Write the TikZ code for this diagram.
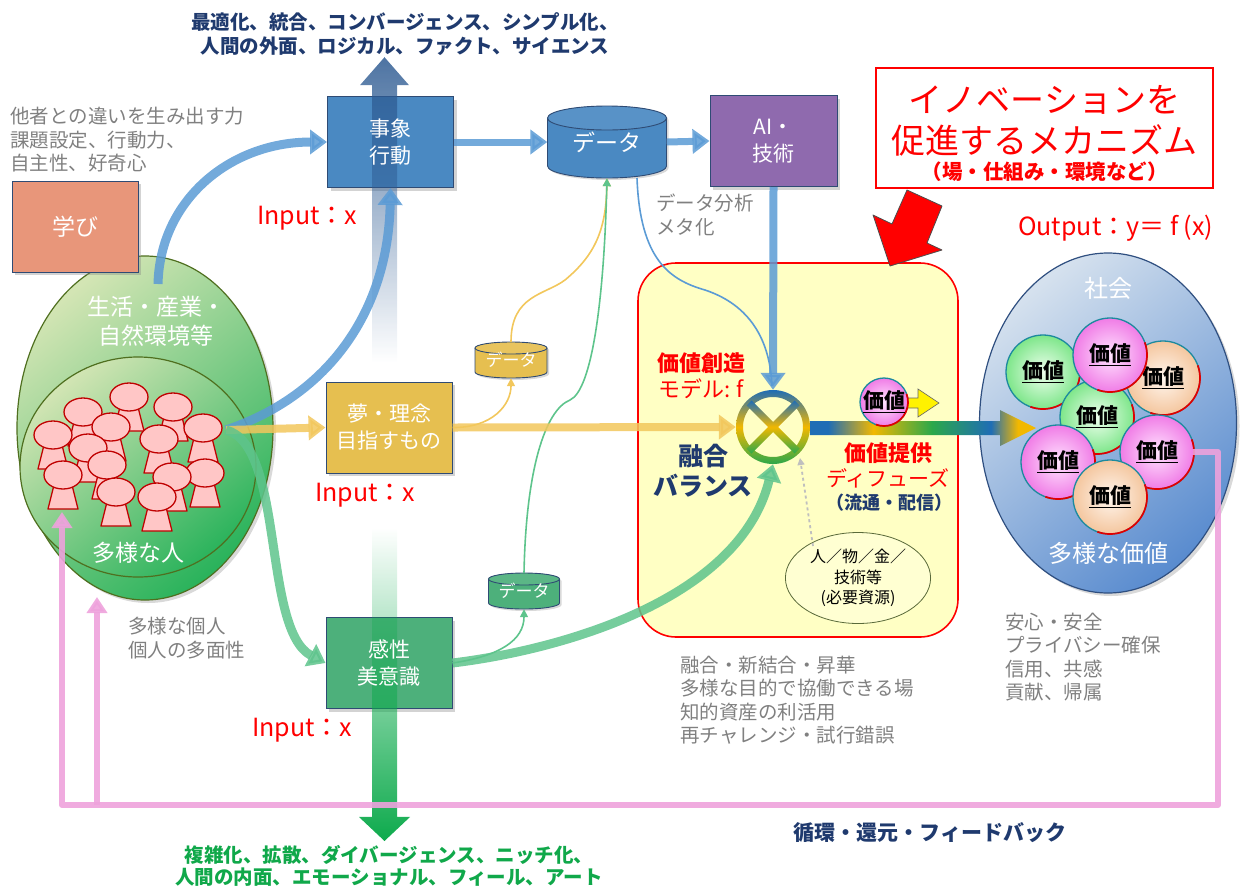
\documentclass[tikz,border=0pt]{standalone}
\usepackage{fontspec}
\setmainfont{Noto Sans CJK JP}
\usetikzlibrary{arrows.meta,calc,shadows,fadings,shapes.geometric}

\definecolor{navytxt}{HTML}{1F3A6E}
\definecolor{graytxt}{HTML}{808080}
\definecolor{redtxt}{HTML}{FF0000}
\definecolor{greentxt}{HTML}{10A84A}
\definecolor{evtblue}{HTML}{4A89C2}
\definecolor{boxedge}{HTML}{2F4B74}
\definecolor{dreamgold}{HTML}{E6BF50}
\definecolor{sensegreen}{HTML}{4DB07B}
\definecolor{learnsalmon}{HTML}{E8967A}
\definecolor{aipurple}{HTML}{8F6AAE}
\definecolor{arrblue}{HTML}{5B9BD5}
\definecolor{arryellow}{HTML}{F2C75C}
\definecolor{arrgreen}{HTML}{5EC48C}
\definecolor{fbpink}{HTML}{EEA2DC}
\definecolor{mechyellow}{HTML}{FFFFC4}
\definecolor{flowblue}{HTML}{1F6DB5}
\definecolor{flowgold}{HTML}{F2B800}
\definecolor{flowgreen}{HTML}{2BA84A}
\definecolor{upblue}{HTML}{2E5B92}
\definecolor{downgreen}{HTML}{0DAA4C}
\definecolor{envlight}{HTML}{D3E5B4}
\definecolor{envdark}{HTML}{2BB35C}
\definecolor{envedge}{HTML}{4F6F1F}
\definecolor{soclight}{HTML}{D5E1EE}
\definecolor{socdark}{HTML}{5A8CCF}
\definecolor{socedge}{HTML}{2F4F80}
\definecolor{personfill}{HTML}{FFC6C6}
\definecolor{personedge}{HTML}{C00000}
\definecolor{ballteal}{HTML}{1C8A9E}
\definecolor{ballred}{HTML}{E00000}
\definecolor{pinkin}{HTML}{FFE4FF}
\definecolor{pinkout}{HTML}{F07CE6}
\definecolor{greenin}{HTML}{EEFFEE}
\definecolor{greenout}{HTML}{7EE68A}
\definecolor{peachin}{HTML}{FFF6EE}
\definecolor{peachout}{HTML}{F4C69E}
\definecolor{reslemon}{HTML}{FFFFD2}
\definecolor{resedge}{HTML}{5A6A3A}

\tikzfading[name=fadeup, top color=transparent!0, bottom color=transparent!100]
\tikzfading[name=fadedown, top color=transparent!100, bottom color=transparent!0]
% the path's bounding box covers the middle half (25bp..75bp) of the shading
\pgfdeclarehorizontalshading{valueflow}{100bp}{color(0bp)=(flowblue); color(29bp)=(flowblue);
  color(39bp)=(flowgold); color(52bp)=(flowgreen); color(65bp)=(flowblue);
  color(71bp)=(flowgold); color(100bp)=(flowgold)}

\newcommand\fsz[2]{\fontsize{#1}{#2}\selectfont}

% a small figure of a person: head and trapezoid body
\newcommand\person[2]{%
  \filldraw[fill=personfill, draw=personedge, line width=1.3pt, line join=round]
    (#1-9,#2+10) -- (#1+9,#2+10) -- (#1+15,#2+34) -- (#1-15,#2+34) -- cycle;
  \filldraw[fill=personfill, draw=personedge, line width=1.3pt]
    (#1,#2) ellipse[x radius=19pt, y radius=14pt];
}

% drum shaped data store: cx, cy, half width, half height, cap radius, colour
\newcommand\drumshape[6]{%
  \fill[#6, drop shadow={shadow xshift=2pt, shadow yshift=-2pt, opacity=.3}]
    (#1-#3,#2-#4+#5) -- (#1-#3,#2+#4-#5)
    arc[start angle=180, end angle=360, x radius=#3pt, y radius=#5pt]
    -- (#1+#3,#2-#4+#5)
    arc[start angle=0, end angle=180, x radius=#3pt, y radius=#5pt] -- cycle;
  \draw[boxedge, line width=.9pt] (#1-#3,#2-#4+#5) -- (#1-#3,#2+#4-#5)
    arc[start angle=180, end angle=360, x radius=#3pt, y radius=#5pt]
    -- (#1+#3,#2-#4+#5);
  \filldraw[fill=#6!92!white, draw=boxedge, line width=.9pt]
    (#1,#2-#4+#5) ellipse[x radius=#3pt, y radius=#5pt];
}

% value ball: name, x, y, radius, inner colour, outer colour
\newcommand\valball[6]{%
  \shade[inner color=#5, outer color=#6] (#2,#3) circle[radius=#4pt];
  \draw[ballteal, line width=1.3pt] (#2,#3) circle[radius=#4pt];
  \draw[ballred, line width=1.7pt] (#2,#3) ++(20:#4pt)
    arc[start angle=20, end angle=-110, radius=#4pt];
  \node[inner sep=0pt, font=\fsz{21}{24}\bfseries] (#1) at (#2,#3) {\underline{価値}};
}

\tikzset{
  boxnode/.style={draw=boxedge, line width=1pt, minimum width=126pt, minimum height=91pt,
    drop shadow={shadow xshift=3pt, shadow yshift=-3pt, opacity=.35}},
  boxtext/.style={text=white, align=center, font=\fsz{21}{27}},
  graylbl/.style={text=graytxt, align=left, inner sep=0pt, anchor=west, font=\fsz{19.5}{23.5}},
  inlbl/.style={text=redtxt, font=\fsz{25}{30}, inner sep=0pt, anchor=west},
  thickarr/.style={line width=#1, opacity=.85, -{Triangle[length=17pt,width=24pt]}},
  thickarr/.default=9pt,
  thinline/.style={line width=1.6pt, -{Triangle[length=8pt,width=8pt]}},
  fbline/.style={fbpink, line width=6pt, opacity=.9},
  tricolour/.style={top color=flowblue, bottom color=flowgreen, middle color=flowgold},
}

\begin{document}
\begin{tikzpicture}[x=1pt, y=-1pt]
\useasboundingbox (0,0) rectangle (1242,887);

% ---- mechanism area ----
\node[draw=red, line width=1.6pt, fill=mechyellow, rounded corners=38pt,
  minimum width=320pt, minimum height=374pt] (mechbox) at (798,450) {};

% ---- environment and people ----
\node[ellipse, draw=envedge, line width=1.2pt, top color=envlight, bottom color=envdark,
  shading angle=40, minimum width=256pt, minimum height=344pt,
  drop shadow={shadow xshift=3pt, shadow yshift=-3pt, opacity=.3}] (env) at (145,428) {};
\node[ellipse, draw=envedge, line width=1.2pt, top color=envlight, bottom color=envdark,
  shading angle=40, minimum width=236pt, minimum height=220pt] (people) at (138,467) {};
\node[text=white, align=center, font=\fsz{23}{29}] (envlbl) at (156,321) {生活・産業・\\自然環境等};
\foreach \px/\py in {129/397,173/407,83/412,111/427,203/428,53/435,159/439,88/448,
  107/465,205/473,63/475,172/477,116/492,157/497}{\person{\px}{\py}}
\node[text=white, font=\fsz{23}{28}] (peoplelbl) at (138,553) {多様な人};

% ---- society ----
\node[ellipse, draw=socedge, line width=1.2pt, top color=soclight, bottom color=socdark,
  shading angle=40, minimum width=257pt, minimum height=340pt,
  drop shadow={shadow xshift=3pt, shadow yshift=-3pt, opacity=.3}] (society) at (1108,423) {};
\node[text=white, font=\fsz{24}{28}] (soclbl) at (1108,288) {社会};
\node[text=white, font=\fsz{24}{28}] (divlbl) at (1108,553) {多様な価値};
\valball{v1}{1043}{372}{37}{greenin}{greenout}
\valball{v2}{1163}{378}{37}{peachin}{peachout}
\valball{v3}{1097}{417}{37}{greenin}{greenout}
\valball{v4}{1110}{355}{37}{pinkin}{pinkout}
\valball{v5}{1157}{452}{37}{pinkin}{pinkout}
\valball{v6}{1058}{462}{37}{pinkin}{pinkout}
\valball{v7}{1110}{497}{37}{peachin}{peachout}

% ---- boxes ----
\node[boxnode, fill=evtblue] (event) at (390.5,142) {};
\node[boxnode, fill=dreamgold] (dream) at (389,427.5) {};
\node[boxnode, fill=sensegreen] (sense) at (389,663) {};
\node[boxnode, fill=learnsalmon] (learn) at (75,226.5) {};
\node[boxnode, fill=aipurple, minimum width=127pt] (ai) at (773.5,141) {};

% ---- data stores ----
\drumshape{607}{142}{59.5}{36}{12}{evtblue}
\node[minimum width=119pt, minimum height=72pt, inner sep=0pt, text=white,
  font=\fsz{23}{26}] (data) at (607,142) {\raisebox{-6pt}{データ}};
\drumshape{511}{360}{36}{18}{6}{dreamgold}
\node[minimum width=72pt, minimum height=36pt, inner sep=0pt, text=white,
  font=\fsz{17}{20}] (gdata) at (511,360) {\raisebox{-3pt}{データ}};
\drumshape{524}{591}{35.5}{18}{6}{sensegreen}
\node[minimum width=71pt, minimum height=36pt, inner sep=0pt, text=white,
  font=\fsz{17}{20}] (sdata) at (524,591) {\raisebox{-3pt}{データ}};

% ---- rising and sinking axis arrows ----
\fill[upblue, path fading=fadeup, fill opacity=.85] (372,362) -- (372,85) -- (360,85) -- (384.5,57)
  -- (409,85) -- (397,85) -- (397,362) -- cycle;
\fill[downgreen, path fading=fadedown] (372,528) -- (372,817) -- (359,817) -- (384.5,841)
  -- (410,817) -- (397,817) -- (397,528) -- cycle;

% ---- box captions ----
\node[boxtext] (eventlbl) at (event.center) {事象\\行動};
\node[boxtext] (dreamlbl) at (dream.center) {夢・理念\\目指すもの};
\node[boxtext] (senselbl) at (sense.center) {感性\\美意識};
\node[boxtext, font=\fsz{23}{27}] (learnlbl) at (learn.center) {学び};
\node[boxtext] (ailbl) at (ai.center) {AI・\\技術};

% ---- the combining node ----
\node[circle, minimum size=74pt, inner sep=0pt] (mix) at (773,427) {};

% ---- thin data lines ----
\draw[arryellow, thinline] (dream.east) .. controls (492,428) and (511,405) .. (gdata.south);
\draw[arryellow, thinline] (gdata.north) .. controls (511,295) and (545,295) .. (565,280)
  .. controls (595,255) and (606,230) .. (data.south);
\draw[arrgreen, thinline] (sense.east) .. controls (500,656) and (524,640) .. (sdata.south);
\draw[arrgreen, thinline] (sdata.north) .. controls (526,470) and (545,410) .. (570,400)
  .. controls (592,390) and (604,300) .. (data.south);
\coordinate (datatap) at (637,178);
\coordinate (mixtop) at (772,386);
\draw[arrblue, line width=1.6pt] (datatap) .. controls (640,260) and (670,280) .. (705,290)
  .. controls (750,305) and (770,340) .. (mixtop);

% ---- thick flows ----
\draw[arrblue, thickarr=7pt] (event.east) -- (data.west);
\draw[arrblue, thickarr=7pt] (data.east) -- (ai.west);
\draw[arrblue, thickarr=8pt] (ai.south) -- (mix.north);
\coordinate (envtop) at (158,284);
\draw[arrblue, thickarr] (envtop) .. controls (160,200) and (230,142) .. (event.west);
\coordinate (crowd) at (226,430);
\draw[arrblue, thickarr] (crowd) .. controls (330,395) and (388,310) .. (event.south);
\draw[arryellow, thickarr=8pt] (crowd) -- (dream.west);
\draw[arryellow, thickarr=8pt] (dream.east) -- (mix.west);
\draw[arrgreen, thickarr] (crowd) .. controls (285,445) and (262,630) .. (sense.west);
\draw[arrgreen, thickarr] (sense.east) .. controls (560,650) and (740,600) .. (mix.south);

% ---- combining symbol ----
\shade[tricolour, even odd rule]
  (mix.center) circle[radius=37pt] (mix.center) circle[radius=30pt];
\begin{scope}[shift={(mix.center)}]
  \shade[tricolour] (-21.5,-26.5) -- (26.5,21.5) -- (21.5,26.5) -- (-26.5,-21.5) -- cycle;
  \shade[tricolour] (-21.5,26.5) -- (26.5,-21.5) -- (21.5,-26.5) -- (-26.5,21.5) -- cycle;
\end{scope}

% ---- value delivery arrow ----
\shade[shading=valueflow] (810,421) -- (1000,421) -- (1000,410) -- (1036,428)
  -- (1000,446) -- (1000,435) -- (810,435) -- cycle;
\filldraw[fill=yellow, draw=black!60, line width=.6pt] (900,398) -- (918,398) -- (918,389)
  -- (939,403) -- (918,417) -- (918,408) -- (900,408) -- cycle;
\valball{vflow}{884}{402}{24}{pinkin}{pinkout}

% ---- resources ----
\node[ellipse, draw=resedge, line width=.8pt, fill=reslemon, minimum width=126pt,
  minimum height=74pt, align=center, font=\fsz{16}{20.5}] (res) at (858,578)
  {人／物／金／\\技術等\\(必要資源)};
\coordinate (restop) at (813,546);
\coordinate (mixlow) at (800,458);
\draw[black!25, line width=1.8pt, dashed, -{Triangle[length=7pt,width=7pt]}] (restop) -- (mixlow);

% ---- feedback loop ----
\coordinate (fbstart) at (1193,452);
\coordinate (fbright) at (1218,452);
\coordinate (fbcorner) at (1218,805);
\coordinate (fbleft) at (62,805);
\coordinate (fbmid) at (97,805);
\coordinate (fbtipA) at (62,512);
\coordinate (fbtipB) at (97,597);
\draw[fbline, line join=round, -{Triangle[length=16pt,width=20pt]}]
  (fbstart) -- (fbright) -- (fbcorner) -- (fbleft) -- (fbtipA);
\draw[fbline, -{Triangle[length=16pt,width=20pt]}] (fbmid) -- (fbtipB);

% ---- call-out ----
\node[draw=red, line width=1.2pt, fill=white, minimum width=337pt, minimum height=120pt]
  (mechnote) at (1044.5,128) {};
\node[text=redtxt, font=\fsz{34}{38}] (mechA) at (1044.5,100) {イノベーションを};
\node[text=redtxt, font=\fsz{34}{38}] (mechB) at (1044.5,140) {促進するメカニズム};
\node[text=redtxt, font=\fsz{20.5}{24}\bfseries] (mechC) at (1044.5,172) {（場・仕組み・環境など）};
\filldraw[fill=red, draw=black!70, line width=.8pt, line join=round]
  (907,190) -- (942,206) -- (927,243) -- (942,250) -- (890,266) -- (873,215) -- (892,224) -- cycle;

% ---- labels ----
\node[font=\fsz{19.5}{24}\bfseries, text=navytxt, align=center] (uplbl) at (405,34)
  {最適化、統合、コンバージェンス、シンプル化、\\人間の外面、ロジカル、ファクト、サイエンス};
\node[font=\fsz{19.5}{22}\bfseries, text=greentxt, align=center] (downlbl) at (389,866)
  {複雑化、拡散、ダイバージェンス、ニッチ化、\\人間の内面、エモーショナル、フィール、アート};
\node[font=\fsz{21}{24}\bfseries, text=navytxt] (fblbl) at (930,833) {循環・還元・フィードバック};

\node[graylbl] (skills) at (10,140) {他者との違いを生み出す力\\課題設定、行動力、\\自主性、好奇心};
\node[graylbl] (analysis) at (656,215) {データ分析\\メタ化};
\node[graylbl] (indiv) at (128,638) {多様な個人\\個人の多面性};
\node[graylbl] (place) at (680,700) {融合・新結合・昇華\\多様な目的で協働できる場\\知的資産の利活用\\再チャレンジ・試行錯誤};
\node[graylbl] (trust) at (1005,657) {安心・安全\\プライバシー確保\\信用、共感\\貢献、帰属};

\node[inlbl] (inA) at (257,218) {Input：x};
\node[inlbl] (inB) at (315,495) {Input：x};
\node[inlbl] (inC) at (252,730) {Input：x};
\node[inlbl] (outlbl) at (1018,228) {Output：y＝ f (x)};

\node[text=redtxt, font=\fsz{22}{26}\bfseries] (createA) at (701,363) {価値創造};
\node[text=redtxt, font=\fsz{22}{26}] (createB) at (701,389) {モデル: f};
\node[text=navytxt, font=\fsz{25}{30}\bfseries, align=center] (fuse) at (703,471) {融合\\バランス};
\node[text=redtxt, font=\fsz{22}{26}\bfseries] (deliverA) at (888,453) {価値提供};
\node[text=redtxt, font=\fsz{21}{25}] (deliverB) at (888,478) {ディフューズ};
\node[text=navytxt, font=\fsz{18}{22}\bfseries] (deliverC) at (889,503) {（流通・配信）};
\end{tikzpicture}
\end{document}
